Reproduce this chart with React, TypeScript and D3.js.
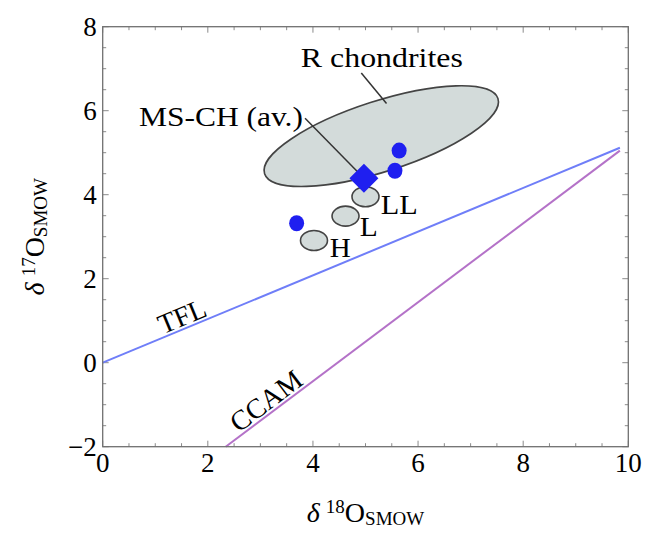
import React from "react";
import * as d3 from "d3";

// ---- data ----
const xTicks = [0, 2, 4, 6, 8, 10];
const yTicks = [-2, 0, 2, 4, 6, 8];
// terrestrial fractionation line: d17 = 0.52 * d18
const tflX = [0, 9.84];
const tflSlope = 0.52;
// CCAM line: d17 = 0.94 * d18 - 4.2
const ccamX = [2.34, 9.84];
const ccamSlope = 0.94;
const ccamIntercept = -4.2;
// R chondrites field: major axis ends (d18, d17)
const rFieldEnds = [
  [3.08, 4.5],
  [7.52, 6.29],
];
const rFieldMinor = 0.67; // minor semi-axis (in d18 units)
// ordinary chondrite groups
const ocNames = ["H", "L", "LL"];
const ocX = [4.02, 4.62, 5.0];
const ocY = [2.91, 3.49, 3.95];
// MS-CH individual samples
const msX = [5.64, 5.56, 3.69];
const msY = [5.05, 4.57, 3.32];
// MS-CH average
const avgX = [4.97];
const avgY = [4.39];
// text labels (d18, d17 anchor)
const labelText = ["R chondrites", "MS-CH (av.)", "LL", "L", "H"];
const labelX = [3.77, 0.69, 5.29, 4.89, 4.32];
const labelY = [7.05, 5.64, 3.54, 3.01, 2.52];
// leader lines
const leaderR = [
  [4.92, 6.9],
  [5.4, 6.17],
];
const leaderMS = [
  [3.85, 5.82],
  [4.97, 4.39],
];

const W = 645;
const H = 534;
const x = d3.scaleLinear().domain([0, 10]).range([102.7, 628.3]);
const y = d3.scaleLinear().domain([-2, 8]).range([446.7, 26.7]);
const TXT = { fontFamily: '"Liberation Serif", "Times New Roman", serif' };

export default function App() {
  const [x0, x1] = x.range();
  const [y0, y1] = y.range();
  const minorX = d3.range(0, 10.001, 0.5);
  const minorY = d3.range(-2, 8.001, 0.5);
  const line = d3
    .line<[number, number]>()
    .x((d) => x(d[0]))
    .y((d) => y(d[1]));

  const tfl: [number, number][] = tflX.map((v) => [v, tflSlope * v]);
  const ccam: [number, number][] = ccamX.map((v) => [v, ccamSlope * v + ccamIntercept]);

  const pA = [x(rFieldEnds[0][0]), y(rFieldEnds[0][1])];
  const pB = [x(rFieldEnds[1][0]), y(rFieldEnds[1][1])];
  const cx = (pA[0] + pB[0]) / 2;
  const cy = (pA[1] + pB[1]) / 2;
  const a = Math.hypot(pB[0] - pA[0], pB[1] - pA[1]) / 2;
  const b = x(rFieldMinor) - x(0);
  const ang = (Math.atan2(pB[1] - pA[1], pB[0] - pA[0]) * 180) / Math.PI;

  const tflAngle = (Math.atan2(y(tflSlope) - y(0), x(1) - x(0)) * 180) / Math.PI;
  const ccamAngle = (Math.atan2(y(ccamSlope) - y(0), x(1) - x(0)) * 180) / Math.PI;
  const tflLab = [1.6, tflSlope * 1.6];
  const ccamLabX = 3.25;
  const ccamLab = [ccamLabX, ccamSlope * ccamLabX + ccamIntercept];

  const diamond = d3.symbol().type(d3.symbolSquare).size(420)();

  const tickCol = "#8a8a8a";
  const labelLens = [162, 164, 37, 18, 21];

  return (
    <svg width={W} height={H} style={{ position: "absolute", left: 0, top: 0, background: "#fff" }}>
      <rect x={0} y={0} width={W} height={H} fill="#fff" />
      {minorX.map((v) => {
        const major = Math.abs(v % 2) < 1e-6;
        const len = major ? 6 : 3.5;
        return (
          <g key={"tx" + v} stroke={tickCol} strokeWidth={1}>
            <line x1={x(v)} x2={x(v)} y1={y0} y2={y0 - len} />
            <line x1={x(v)} x2={x(v)} y1={y1} y2={y1 + len} />
          </g>
        );
      })}
      {minorY.map((v) => {
        const major = Math.abs(v % 2) < 1e-6;
        const len = major ? 6 : 3.5;
        return (
          <g key={"ty" + v} stroke={tickCol} strokeWidth={1}>
            <line x1={x0} x2={x0 + len} y1={y(v)} y2={y(v)} />
            <line x1={x1} x2={x1 - len} y1={y(v)} y2={y(v)} />
          </g>
        );
      })}

      <path d={line(tfl) || ""} fill="none" stroke="#6f7ef8" strokeWidth={2} />
      <path d={line(ccam) || ""} fill="none" stroke="#b472c8" strokeWidth={2} />

      <ellipse
        cx={cx}
        cy={cy}
        rx={a}
        ry={b}
        transform={`rotate(${ang} ${cx} ${cy})`}
        fill="#d3dbda"
        stroke="#444"
        strokeWidth={1.6}
      />
      <path d={line(leaderR as [number, number][]) || ""} stroke="#333" strokeWidth={1.5} fill="none" />
      <path d={line(leaderMS as [number, number][]) || ""} stroke="#333" strokeWidth={1.5} fill="none" />

      {ocNames.map((n, i) => (
        <ellipse
          key={n}
          cx={x(ocX[i])}
          cy={y(ocY[i])}
          rx={13.5}
          ry={10}
          fill="#d3dbda"
          stroke="#444"
          strokeWidth={1.6}
        />
      ))}

      {msX.map((v, i) => (
        <ellipse key={"ms" + i} cx={x(v)} cy={y(msY[i])} rx={7.5} ry={8} fill="#1f1ff0" />
      ))}
      {avgX.map((v, i) => (
        <path
          key={"avg" + i}
          d={diamond || ""}
          transform={`translate(${x(v)},${y(avgY[i])}) rotate(45)`}
          fill="#1f1ff0"
        />
      ))}

      {labelText.map((t, i) => (
        <text
          key={t}
          x={x(labelX[i])}
          y={y(labelY[i])}
          fontSize={28}
          textLength={labelLens[i]}
          lengthAdjust="spacingAndGlyphs"
          fill="#000"
          style={TXT}
        >
          {t}
        </text>
      ))}
      <text
        transform={`translate(${x(tflLab[0])},${y(tflLab[1])}) rotate(${tflAngle})`}
        textAnchor="middle"
        dy={-3}
        fontSize={28}
        style={TXT}
      >
        TFL
      </text>
      <text
        transform={`translate(${x(ccamLab[0])},${y(ccamLab[1])}) rotate(${ccamAngle})`}
        textAnchor="middle"
        dy={-3}
        fontSize={28}
        style={TXT}
      >
        CCAM
      </text>

      <rect x={x0} y={y1} width={x1 - x0} height={y0 - y1} fill="none" stroke="#707070" strokeWidth={1.3} />

      {xTicks.map((v) => (
        <text key={"xl" + v} x={x(v)} y={y0 + 25} textAnchor="middle" fontSize={27} style={TXT}>
          {v}
        </text>
      ))}
      {yTicks.map((v) => (
        <text key={"yl" + v} x={x0 - 6} y={y(v) + 9} textAnchor="end" fontSize={27} style={TXT}>
          {v < 0 ? "\u2212" + Math.abs(v) : v}
        </text>
      ))}

      <text x={(x0 + x1) / 2} y={522} textAnchor="middle" fontSize={28} style={TXT}>
        <tspan fontStyle="italic">δ</tspan>
        <tspan dx={6} dy={-9} fontSize={19}>18</tspan>
        <tspan dy={9}>O</tspan>
        <tspan dy={3} fontSize={19}>SMOW</tspan>
      </text>
      <text
        transform={`translate(44,${(y0 + y1) / 2}) rotate(-90)`}
        textAnchor="middle"
        fontSize={28}
        style={TXT}
      >
        <tspan fontStyle="italic">δ</tspan>
        <tspan dx={6} dy={-9} fontSize={19}>17</tspan>
        <tspan dy={9}>O</tspan>
        <tspan dy={3} fontSize={19}>SMOW</tspan>
      </text>
    </svg>
  );
}
